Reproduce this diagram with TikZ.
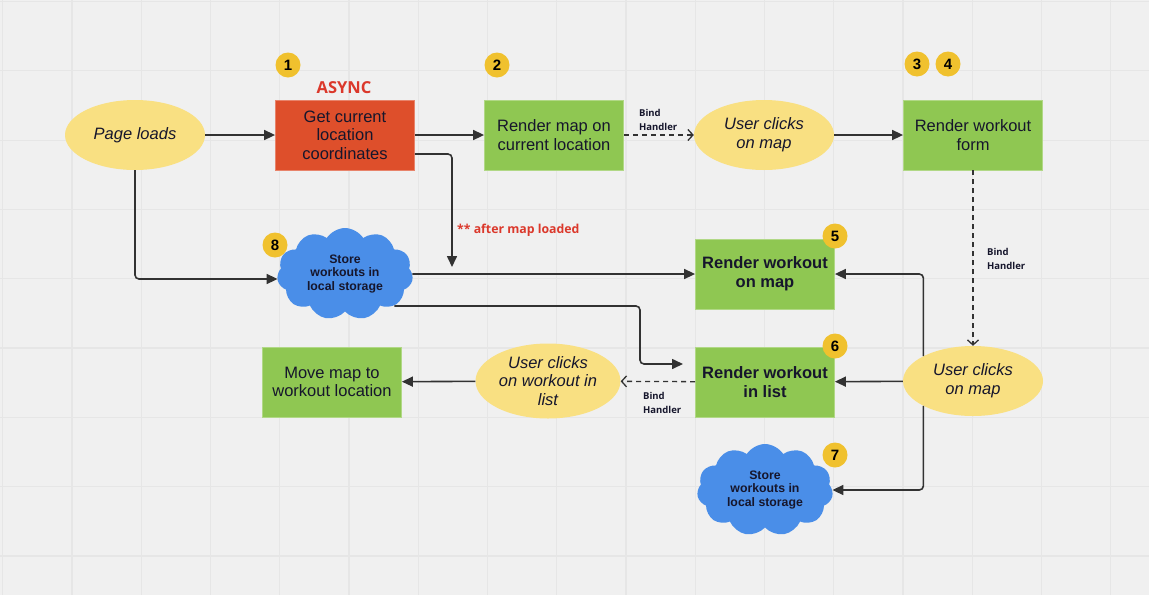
\documentclass[tikz,border=0pt]{standalone}
\usepackage{fontspec}
\setmainfont{Liberation Sans}
\newfontfamily\notefont{Open Sans}
\usetikzlibrary{arrows.meta, shapes.geometric, shapes.symbols}
\definecolor{bgcol}{RGB}{240,240,240}
\definecolor{gridcol}{RGB}{230,230,230}
\definecolor{boxgreen}{RGB}{143,199,82}
\definecolor{asyncred}{RGB}{222,79,43}
\definecolor{evyellow}{RGB}{249,224,130}
\definecolor{cloudblue}{RGB}{74,142,232}
\definecolor{badgecol}{RGB}{240,193,46}
\definecolor{notered}{RGB}{219,56,43}
\definecolor{inkcol}{RGB}{22,22,44}
\definecolor{linecol}{RGB}{50,50,50}
\tikzset{
    stepbox/.style={rectangle, fill=boxgreen, draw=boxgreen!70!white, line width=0.8pt,
        minimum width=139pt, minimum height=70pt, align=center, text=inkcol,
        font=\fontsize{16.5}{18.5}\selectfont},
    event/.style={ellipse, fill=evyellow, minimum width=140pt, minimum height=70pt,
        inner sep=0pt, align=center, text=inkcol, font=\fontsize{16.5}{18.7}\selectfont\itshape},
    store/.style={cloud, cloud puffs=11, cloud puff arc=115, aspect=1.5, fill=cloudblue,
        minimum width=136pt, minimum height=92pt, inner sep=0pt, align=center, text=inkcol,
        font=\fontsize{12.3}{13.5}\selectfont\bfseries},
    badge/.style={circle, fill=badgecol, minimum size=25pt, inner sep=0pt, text=black,
        font=\fontsize{15}{15}\selectfont\bfseries},
    note/.style={align=left, inner sep=0pt, text=inkcol, font=\notefont\bfseries\fontsize{9.5}{13.5}\selectfont},
    flow/.style={draw=linecol, line width=1.6pt, rounded corners=4pt, -{Triangle[length=11pt,width=10pt]}},
    hook/.style={draw=linecol, line width=1.3pt, dash pattern=on 5pt off 4pt,
        -{Straight Barb[length=5pt,width=11pt]}},
}
\begin{document}
\begin{tikzpicture}[x=1pt, y=-1pt]
    \useasboundingbox (0,0) rectangle (1149,595);
    \fill[bgcol] (0,0) rectangle (1149,595);
    \foreach \i in {0,...,16}
        \draw[gridcol, line width=1.2pt] ({2.7+69.25*\i},0) -- ++(0,595);
    \foreach \j in {0,...,8}
        \draw[gridcol, line width=1.2pt] (0,{1.5+69.3*\j}) -- ++(1149,0);

    % top row
    \node[event] (pl) at (135,135) {Page loads};
    \node[stepbox, fill=asyncred, draw=asyncred!70!white] (gcl) at (345,135) {Get current\\location\\coordinates};
    \node[stepbox] (rm) at (554,135) {Render map on\\current location};
    \node[event] (uc1) at (764,135) {User clicks\\on map};
    \node[stepbox] (rwf) at (973,135) {Render workout\\form};

    % middle and bottom
    \node[store] (st8) at (345,274) {Store\\workouts in\\local storage};
    \node[stepbox, font=\fontsize{16.5}{19}\selectfont\bfseries] (rwm) at (765,274) {Render workout\\on map};
    \node[stepbox, font=\fontsize{16.5}{19}\selectfont\bfseries] (rwl) at (765,382) {Render workout\\in list};
    \node[event] (uc2) at (973,381) {User clicks\\on map};
    \node[event, minimum width=145pt, minimum height=75pt] (uc3) at (548,381) {User clicks\\on workout in\\list};
    \node[stepbox] (mm) at (332,382) {Move map to\\workout location};
    \node[store] (st7) at (765,490) {Store\\workouts in\\local storage};

    % numbers and notes
    \node[badge] (b1) at (288,65) {1};
    \node[badge] (b2) at (497,65) {2};
    \node[badge] (b3) at (917,64) {3};
    \node[badge] (b4) at (948,64) {4};
    \node[badge] (b5) at (835,236) {5};
    \node[badge] (b6) at (835,346) {6};
    \node[badge] (b7) at (835,455) {7};
    \node[badge] (b8) at (275,245) {8};
    \node[text=notered, font=\notefont\bfseries\fontsize{16.5}{16.5}\selectfont] (async) at (344,88) {ASYNC};
    \node[note, anchor=west, text=notered, font=\notefont\bfseries\fontsize{12.3}{12.3}\selectfont] (loadnote) at (457,230) {** after map loaded};
    \node[note, anchor=west] (bh1) at (639,120) {Bind\\Handler};
    \node[note, anchor=west] (bh2) at (987,259) {Bind\\Handler};
    \node[note, anchor=west] (bh3) at (643,403) {Bind\\Handler};

    \coordinate (loaded) at (452,267);
    \coordinate (listin) at (683,364);

    % connectors
    \draw[flow] (pl) -- (gcl);
    \draw[flow] (gcl) -- (rm);
    \draw[hook] (rm) -- (uc1);
    \draw[flow] (uc1) -- (rwf);
    \draw[hook] (rwf) -- (uc2);
    \draw[flow] (pl.south) |- ([yshift=-5pt]st8.west);
    \draw[flow] ([yshift=-19pt]gcl.east) -| (loaded);
    \draw[flow] (st8.east) -- (rwm.west);
    \draw[flow] ([xshift=-18pt,yshift=-32pt]st8.east) -| ([xshift=-43pt]listin) -- (listin);
    \draw[flow] (uc2) -- (rwl);
    \draw[flow] (uc2.north west) |- (rwm.east);
    \draw[flow] (uc2.south west) |- (st7.east);
    \draw[hook] (rwl) -- (uc3);
    \draw[flow] (uc3) -- (mm);
\end{tikzpicture}
\end{document}
